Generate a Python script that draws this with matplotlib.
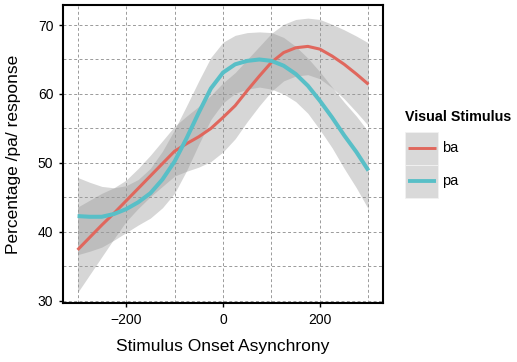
import matplotlib
matplotlib.use('Agg')
from matplotlib import pyplot as plt
from matplotlib.patches import Rectangle
from matplotlib.lines import Line2D
from matplotlib.ticker import MultipleLocator, FixedLocator

plt.rcParams['font.family'] = ['Liberation Sans', 'DejaVu Sans']

# values (loess fit + confidence band half width)
soa = [-300, -275, -250, -225, -200, -175, -150, -125, -100, -75, -50, -25, 0,
       25, 50, 75, 100, 125, 150, 175, 200, 225, 250, 275, 300]

ba_fit = [37.4, 39.2, 41.0, 42.7, 44.5, 46.3, 48.1, 49.9, 51.7, 52.8, 53.8, 55.0, 56.6,
          58.3, 60.5, 62.6, 64.6, 66.0, 66.7, 66.9, 66.5, 65.5, 64.3, 62.9, 61.4]
ba_half = [6.2, 5.4, 4.6, 3.7, 3.0, 2.9, 3.0, 3.3, 3.6, 4.0, 4.4, 4.8, 5.0,
           4.8, 4.5, 4.3, 4.2, 4.1, 4.1, 4.1, 4.3, 4.6, 5.0, 5.5, 6.0]

pa_fit = [42.3, 42.2, 42.2, 42.6, 43.3, 44.3, 45.6, 47.6, 50.2, 53.6, 57.3, 60.8, 63.1,
          64.3, 64.8, 65.0, 64.8, 64.1, 62.9, 61.2, 59.0, 56.6, 54.0, 51.6, 48.9]
pa_half = [5.6, 5.0, 4.4, 3.8, 3.4, 3.3, 3.6, 4.1, 4.6, 4.7, 4.6, 4.5, 4.4,
           4.2, 4.1, 4.0, 4.1, 4.1, 4.0, 4.0, 4.2, 4.4, 4.8, 5.2, 5.6]

series = ['ba', 'pa']
colors = {'ba': '#E0675D', 'pa': '#58BFC7'}
widths = {'ba': 2.2, 'pa': 2.9}
band_fill = '#999999'

W, H = 517, 362
fig = plt.figure(figsize=(W / 100, H / 100), dpi=100)
ax = fig.add_axes([63 / W, 1 - 303 / H, 320 / W, 298 / H])

data = {'ba': (ba_fit, ba_half), 'pa': (pa_fit, pa_half)}
for name in series:
    fit, half = data[name]
    lo = [f - h for f, h in zip(fit, half)]
    hi = [f + h for f, h in zip(fit, half)]
    ax.fill_between(soa, lo, hi, color=band_fill, alpha=0.4, lw=0, zorder=2)
    ax.plot(soa, fit, color=colors[name], lw=widths[name], zorder=3,
            solid_capstyle='butt')

ax.set_xlim(-330, 330)
ax.set_ylim(29.7, 72.9)

ax.xaxis.set_major_locator(FixedLocator([-200, 0, 200]))
ax.xaxis.set_minor_locator(FixedLocator([-300, -100, 100, 300]))
ax.yaxis.set_major_locator(MultipleLocator(10))
ax.yaxis.set_minor_locator(MultipleLocator(5))
ax.set_xticklabels(['\u2212200', '0', '200'])

#dashed grid, majors and minors look the same
ax.grid(True, which='both', color='#9a9a9a', lw=0.7, ls=(0, (3, 2.5)), zorder=1)
ax.set_axisbelow(True)
ax.tick_params(which='minor', length=0)
ax.tick_params(which='major', length=3, width=1, color='black', direction='out',
               labelsize=10, pad=4, labelcolor='black')

for side in ['left', 'bottom', 'top', 'right']:
    ax.spines[side].set_visible(True)
    ax.spines[side].set_color('black')
    ax.spines[side].set_linewidth(1.5)

ax.set_xlabel('Stimulus Onset Asynchrony', fontsize=12.5, labelpad=9)
ax.set_ylabel('Percentage /pa/ response', fontsize=12.5, labelpad=12)

#legend drawn by hand: grey key boxes with the line on top
fig.text(405 / W, 1 - 117 / H, 'Visual Stimulus', fontsize=10.3, fontweight='bold',
         ha='left', va='center')
key_top = 131.5
key_h = 33
for i, name in enumerate(series):
    ky = key_top + i * key_h
    fig.patches.append(Rectangle((405 / W, 1 - (ky + key_h) / H), 33 / W, key_h / H,
                                 transform=fig.transFigure, facecolor='#d9d9d9',
                                 edgecolor='#f2f2f2', lw=0.6))
    yc = 1 - (ky + key_h / 2) / H
    fig.lines.append(Line2D([408 / W, 436 / W], [yc, yc], transform=fig.transFigure,
                            color=colors[name], lw=widths[name] * 0.95,
                            solid_capstyle='butt'))
    fig.text(442 / W, yc, name, fontsize=10.5, ha='left', va='center')

fig.savefig('out.png', dpi=100)
plt.close()
